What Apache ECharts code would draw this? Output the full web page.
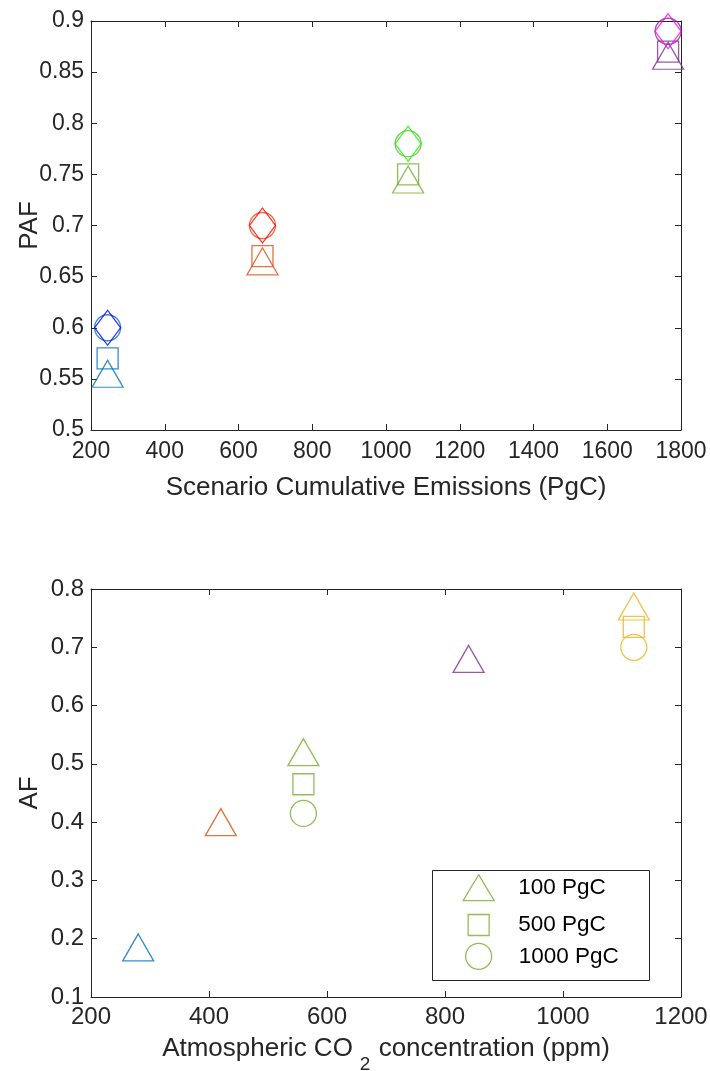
<!DOCTYPE html>
<html>
<head>
<meta charset="utf-8">
<script src="https://cdn.jsdelivr.net/npm/echarts@6/dist/echarts.min.js"></script>
<style>
  html, body { margin: 0; padding: 0; background: #fff; }
  #chart { width: 710px; height: 1071px; }
</style>
</head>
<body>
<div id="chart"></div>
<script>
// ---- Upper panel: peak airborne fraction vs scenario cumulative emissions ----
const emissions = [245, 665, 1060, 1765];
const pafTriangle = [0.555, 0.665, 0.745, 0.866];
const pafSquare = [0.57, 0.67, 0.75, 0.87];
const pafCircle = [0.60, 0.70, 0.78, 0.89];
const pafDiamond = [0.60, 0.70, 0.78, 0.89];

// ---- Lower panel: airborne fraction vs atmospheric CO2 ----
const co2All = [280, 420, 560, 840, 1120];
const af100 = [0.185, 0.40, 0.52, 0.68, 0.77];
const co2Pulse = [560, 1120];
const af500 = [0.465, 0.735];
const af1000 = [0.415, 0.70];

const pulseNames = ['100 PgC', '500 PgC', '1000 PgC'];

// Tick labels
const emisTicks = [200, 400, 600, 800, 1000, 1200, 1400, 1600, 1800];
const pafTicks = [0.5, 0.55, 0.6, 0.65, 0.7, 0.75, 0.8, 0.85, 0.9];
const co2Ticks = [200, 400, 600, 800, 1000, 1200];
const afTicks = [0.1, 0.2, 0.3, 0.4, 0.5, 0.6, 0.7, 0.8];

// Colours
const clusterColors = ['#0072BD', '#D95319', '#77AC30', '#7E2F8E'];
const diamondColors = ['#0000FF', '#FF0000', '#00FF00', '#FF00FF'];
const co2Colors = ['#0072BD', '#D95319', '#77AC30', '#7E2F8E', '#EDB120'];
const pulseColors = ['#77AC30', '#EDB120'];
const legendColor = '#77AC30';

const FONT = '"Liberation Sans", Arial, Helvetica, sans-serif';
const AXIS = '#262626';
const LW = 1.3;

function hollow(xs, ys, colors) {
  return xs.map((x, i) => ({
    value: [x, ys[i]],
    itemStyle: { color: 'rgba(0,0,0,0)', borderColor: colors[i], borderWidth: LW }
  }));
}

function boxAxes(gridIndex, min, max, interval, ticks, isX, fontSize, margin, name, nameGap, nameExtra) {
  const base = {
    type: 'value', gridIndex, min, max, interval,
    splitLine: { show: false },
    axisLine: { show: true, onZero: false, lineStyle: { color: AXIS, width: 1 } },
    axisTick: { show: true, inside: true, length: 6, lineStyle: { color: AXIS, width: 1 } }
  };
  const main = Object.assign({}, base, {
    position: isX ? 'bottom' : 'left',
    name, nameLocation: 'middle', nameGap, nameMoveOverlap: false,
    nameTextStyle: Object.assign({ fontFamily: FONT, fontSize: 26, color: AXIS }, nameExtra || {}),
    axisLabel: {
      show: true, fontFamily: FONT, fontSize, color: AXIS, margin,
      formatter: v => {
        const t = ticks.find(k => Math.abs(k - v) < 1e-9);
        return t === undefined ? '' : String(t);
      }
    }
  });
  const mirror = Object.assign({}, base, {
    position: isX ? 'top' : 'right',
    axisLabel: { show: false }
  });
  return [main, mirror];
}

const topX = boxAxes(0, 200, 1800, 200, emisTicks, true, 23, 10,
  'Scenario Cumulative Emissions (PgC)', 45);
const topY = boxAxes(0, 0.5, 0.9, 0.05, pafTicks, false, 23, 7, 'PAF', 48);
const botX = boxAxes(1, 200, 1200, 200, co2Ticks, true, 24, 8,
  'Atmospheric CO{sub|2} concentration (ppm)', 26,
  { rich: { sub: { fontFamily: FONT, fontSize: 19, color: AXIS, padding: [32, 1, 0, 7] } } });
const botY = boxAxes(1, 0.1, 0.8, 0.1, afTicks, false, 24, 7, 'AF', 48);

const scatterBase = { type: 'scatter', clip: false, silent: true, emphasis: { disabled: true } };

const option = {
  animation: false,
  backgroundColor: '#ffffff',
  grid: [
    { left: 91, top: 21, width: 590, height: 409, outerBoundsMode: 'none', containLabel: false },
    { left: 91, top: 589, width: 590, height: 408, outerBoundsMode: 'none', containLabel: false }
  ],
  xAxis: [topX[0], topX[1], botX[0], botX[1]],
  yAxis: [topY[0], topY[1], botY[0], botY[1]],
  legend: [
    {
      data: [{ name: pulseNames[0], icon: 'triangle',
        itemStyle: { color: 'rgba(0,0,0,0)', borderColor: legendColor, borderWidth: LW } }],
      left: 462.5, top: 874, padding: 0, itemWidth: 31, itemHeight: 26, selectedMode: false,
      textStyle: { fontFamily: FONT, fontSize: 22.5, color: '#000', padding: [0, 0, 0, 19] }
    },
    {
      data: [{ name: pulseNames[1], icon: 'rect',
        itemStyle: { color: 'rgba(0,0,0,0)', borderColor: legendColor, borderWidth: LW } }],
      left: 467.5, top: 913.5, padding: 0, itemWidth: 21, itemHeight: 21, selectedMode: false,
      textStyle: { fontFamily: FONT, fontSize: 22.5, color: '#000', padding: [0, 0, 0, 24] }
    },
    {
      data: [{ name: pulseNames[2], icon: 'circle',
        itemStyle: { color: 'rgba(0,0,0,0)', borderColor: legendColor, borderWidth: LW } }],
      left: 465, top: 942.7, padding: 0, itemWidth: 26, itemHeight: 26, selectedMode: false,
      textStyle: { fontFamily: FONT, fontSize: 22.5, color: '#000', padding: [0, 0, 0, 22] }
    }
  ],
  graphic: [{
    type: 'rect', z: 1, silent: true,
    shape: { x: 432.5, y: 870.5, width: 217, height: 110 },
    style: { fill: 'rgba(0,0,0,0)', stroke: AXIS, lineWidth: 1 }
  }],
  series: [
    Object.assign({}, scatterBase, { name: 'PAF 100 PgC', xAxisIndex: 0, yAxisIndex: 0,
      symbol: 'triangle', symbolSize: [31, 27], data: hollow(emissions, pafTriangle, clusterColors) }),
    Object.assign({}, scatterBase, { name: 'PAF 500 PgC', xAxisIndex: 0, yAxisIndex: 0,
      symbol: 'rect', symbolSize: 21, data: hollow(emissions, pafSquare, clusterColors) }),
    Object.assign({}, scatterBase, { name: 'PAF 1000 PgC', xAxisIndex: 0, yAxisIndex: 0,
      symbol: 'circle', symbolSize: 26, data: hollow(emissions, pafCircle, clusterColors) }),
    Object.assign({}, scatterBase, { name: 'PAF 5000 PgC', xAxisIndex: 0, yAxisIndex: 0,
      symbol: 'diamond', symbolSize: [26, 35], data: hollow(emissions, pafDiamond, diamondColors) }),

    Object.assign({}, scatterBase, { name: pulseNames[0], xAxisIndex: 2, yAxisIndex: 2,
      symbol: 'triangle', symbolSize: [31, 27], data: hollow(co2All, af100, co2Colors) }),
    Object.assign({}, scatterBase, { name: pulseNames[1], xAxisIndex: 2, yAxisIndex: 2,
      symbol: 'rect', symbolSize: 21, data: hollow(co2Pulse, af500, pulseColors) }),
    Object.assign({}, scatterBase, { name: pulseNames[2], xAxisIndex: 2, yAxisIndex: 2,
      symbol: 'circle', symbolSize: 26, data: hollow(co2Pulse, af1000, pulseColors) })
  ]
};

const chart = echarts.init(document.getElementById('chart'), null, { renderer: 'canvas' });
chart.setOption(option);
</script>
</body>
</html>
